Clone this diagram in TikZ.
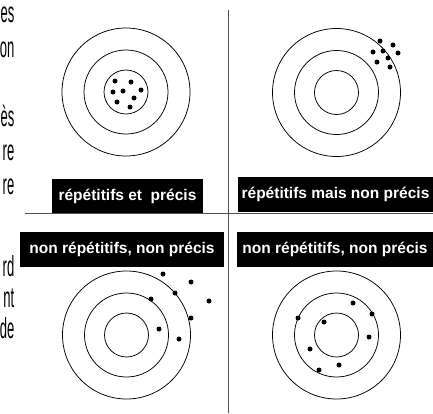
\documentclass[tikz,border=0pt]{standalone}
\usepackage{fontspec}
\usepackage{tikz}
\usetikzlibrary{positioning}
\newfontfamily\captionFont{Liberation Sans}
\newfontfamily\narrowFont[FakeStretch=0.45]{Liberation Sans}
\tikzstyle{board} = [x = 1pt, y = -1pt, every node/.style={transform shape}]
\definecolor{frameColor}{RGB}{80,80,80}
\tikzstyle{ringStyle} = [color=black, line width=.75pt]
\tikzstyle{shotStyle} = [fill=black]
\tikzstyle{frameLine} = [color=frameColor, line width=1pt]
\tikzstyle{captionStyle} = [fill=black, text=white, inner sep=0pt, minimum height=35pt, font=\captionFont\bfseries\fontsize{15.5}{18}\selectfont]
\tikzstyle{marginText} = [anchor=base east, inner sep=0pt, font=\narrowFont\fontsize{29}{34}\selectfont]
\newcommand{\target}[2]{
  \foreach \ring in {22,42,64} {
    \draw [ringStyle] (#1,#2) circle (\ring pt);
  }
}
\newcommand{\shot}[2]{\fill [shotStyle] (#1,#2) circle (2.5pt);}
\newcommand{\shots}[1]{
  \foreach \sx/\sy in {#1} {
    \shot{\sx}{\sy}
  }
}

\begin{document}
\begin{tikzpicture}[board]
  \useasboundingbox (0,0) rectangle (433,413);
  % cut-off words of the running text
  \foreach \word/\base in {es/22, on/57, \`es/126, re/160, re/194, rd/276, nt/307, de/338} {
    \node [marginText] at (14.5,\base) {\word};
  }
  % frame
  \coordinate (hLeft) at (25,213);
  \coordinate (hRight) at (433,213);
  \coordinate (vTop) at (228,10);
  \coordinate (vBottom) at (228,413);
  \draw [frameLine] (hLeft) -- (hRight);
  \draw [frameLine] (vTop) -- (vBottom);
  % targets
  \target{126}{92}
  \shots{115/81, 131/82, 113/92, 123/91, 141/90, 134/98, 117/102, 130/107}
  \target{336.5}{92.5}
  \shots{380/41, 393/45, 373/52, 383/51, 398/53, 388/58, 377/62, 390/67}
  \target{126.5}{335}
  \shots{163/274, 191/282, 175/293, 151/299, 209/301, 191/318, 159/329, 179/339}
  \target{336.5}{335}
  \shots{353/303, 298/318, 372/314, 324/322, 369/337, 310/349, 339/365, 319/370}
  % captions
  \node [captionStyle, minimum width=151pt, minimum height=34pt] (precisCap) at (127.5,196) {répétitifs et\ \ précis};
  \node [captionStyle, minimum width=195pt] (biaisCap) at (335.5,194.5) {répétitifs mais non précis};
  \node [captionStyle, minimum width=204pt] (dispLeftCap) at (122,249.5) {non répétitifs, non précis};
  \node [captionStyle, minimum width=196pt] (dispRightCap) at (335,249.5) {non répétitifs, non précis};
\end{tikzpicture}
\end{document}
